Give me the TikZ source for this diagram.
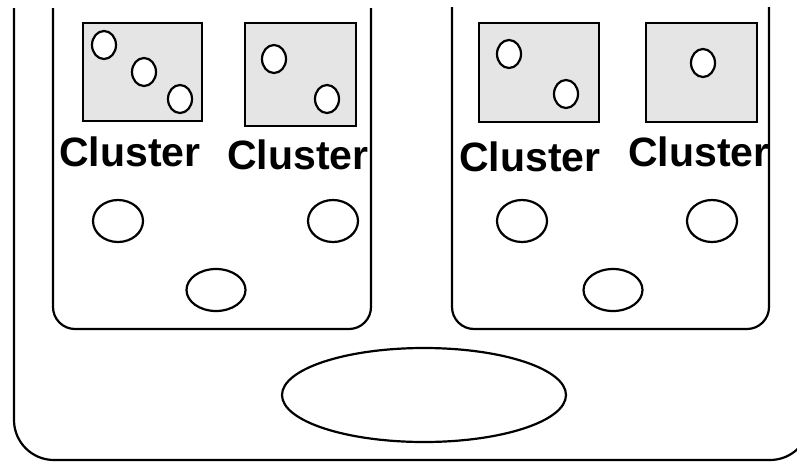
\documentclass[tikz,border=0pt]{standalone}
\usepackage{fontspec}
\setmainfont{Liberation Sans}
\usepackage{tikz}
\tikzset{
  cbox/.style={fill=black!10, draw=black},
  dot/.style={fill=white, draw=black},
  clabel/.style={inner sep=0pt, font=\bfseries\fontsize{41}{48}\selectfont}
}

\begin{document}
\begin{tikzpicture}[x=1pt, y=-1pt, line width=2.2pt]
\useasboundingbox (0,0) rectangle (797,461);
\clip (0,0) rectangle (797,461);

% outer frame
\draw[rounded corners=40pt] (14,8)--(14,460)--(810,460)--(810,8);

% the two groups
\draw[rounded corners=22pt] (53,8)--(53,329)--(371,329)--(371,8);
\draw[rounded corners=22pt] (452,7)--(452,329)--(769,329)--(769,7);

% cluster boxes
\filldraw[cbox] (83,23) rectangle (202,121);
\filldraw[cbox] (245,23) rectangle (356,126);
\filldraw[cbox] (479,23) rectangle (599,122);
\filldraw[cbox] (646,23) rectangle (757,122);

\filldraw[dot] (104,45) ellipse (12pt and 14pt);
\filldraw[dot] (144,72) ellipse (12pt and 14pt);
\filldraw[dot] (180,99) ellipse (12pt and 14pt);
\filldraw[dot] (274,59) ellipse (12pt and 14pt);
\filldraw[dot] (327,99) ellipse (12pt and 14pt);
\filldraw[dot] (509,54) ellipse (12pt and 14pt);
\filldraw[dot] (566,94) ellipse (12pt and 14pt);
\filldraw[dot] (703,63) ellipse (12pt and 14pt);

\node[clabel] (cl1) at (130,152) {Cluster};
\node[clabel] (cl2) at (298,155) {Cluster};
\node[clabel] (cl3) at (530,157) {Cluster};
\node[clabel] (cl4) at (699,152) {Cluster};

% loose members
\draw (118,221) ellipse (25pt and 21pt);
\draw (333,221) ellipse (25pt and 21pt);
\draw (216,290) ellipse (29.5pt and 21pt);
\draw (522,221) ellipse (25pt and 21pt);
\draw (712,221) ellipse (25pt and 21pt);
\draw (613,290) ellipse (29.5pt and 21pt);

\draw (424,395) ellipse (142pt and 47pt);

\end{tikzpicture}
\end{document}
